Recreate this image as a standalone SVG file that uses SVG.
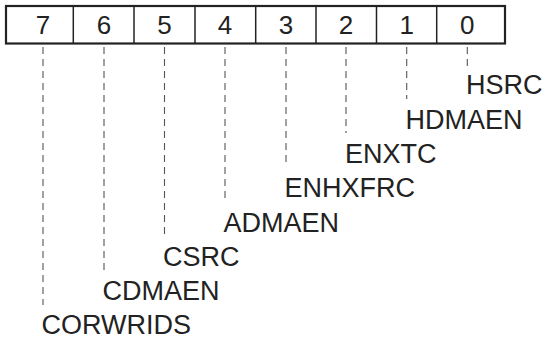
<svg xmlns="http://www.w3.org/2000/svg" width="542" height="342" viewBox="0 0 542 342">
<style>
.box{fill:#fff;stroke:#222;stroke-width:2.2}
.div{stroke:#222;stroke-width:1.5}
.num{font-family:"Liberation Sans",Arial,sans-serif;font-size:26px;fill:#222;text-anchor:middle}
.lbl{font-family:"Liberation Sans",Arial,sans-serif;font-size:27px;fill:#222}
.dash{stroke:#555;stroke-width:1.1;stroke-dasharray:7 5;fill:none}
</style>
<rect width="542" height="342" fill="#fff"/>
<g id="register">
<rect class="box" x="6" y="6" width="499" height="37.5"/>
<line class="div" x1="73.3" y1="6" x2="73.3" y2="43.5"/>
<line class="div" x1="134" y1="6" x2="134" y2="43.5"/>
<line class="div" x1="195" y1="6" x2="195" y2="43.5"/>
<line class="div" x1="255.7" y1="6" x2="255.7" y2="43.5"/>
<line class="div" x1="316" y1="6" x2="316" y2="43.5"/>
<line class="div" x1="376.5" y1="6" x2="376.5" y2="43.5"/>
<line class="div" x1="436.7" y1="6" x2="436.7" y2="43.5"/>
<text class="num" x="43" y="33.5">7</text>
<text class="num" x="104" y="33.5">6</text>
<text class="num" x="164.5" y="33.5">5</text>
<text class="num" x="225" y="33.5">4</text>
<text class="num" x="286" y="33.5">3</text>
<text class="num" x="346" y="33.5">2</text>
<text class="num" x="406.7" y="33.5">1</text>
<text class="num" x="467.3" y="33.5">0</text>
</g>
<g id="connectors">
<line class="dash" x1="43" y1="47" x2="43" y2="305"/>
<line class="dash" x1="104" y1="47" x2="104" y2="271"/>
<line class="dash" x1="164.5" y1="47" x2="164.5" y2="235"/>
<line class="dash" x1="225" y1="47" x2="225" y2="201"/>
<line class="dash" x1="286" y1="47" x2="286" y2="167"/>
<line class="dash" x1="346" y1="47" x2="346" y2="133"/>
<line class="dash" x1="406.7" y1="47" x2="406.7" y2="99"/>
<line class="dash" x1="467.3" y1="47" x2="467.3" y2="68"/>
</g>
<g id="bit0"><text class="lbl" x="466" y="94">HSRC</text></g>
<g id="bit1"><text class="lbl" x="405.5" y="128.5">HDMAEN</text></g>
<g id="bit2"><text class="lbl" x="345" y="162.8">ENXTC</text></g>
<g id="bit3"><text class="lbl" x="284.5" y="197">ENHXFRC</text></g>
<g id="bit4"><text class="lbl" x="223.5" y="231.5">ADMAEN</text></g>
<g id="bit5"><text class="lbl" x="163" y="266">CSRC</text></g>
<g id="bit6"><text class="lbl" x="102.5" y="300">CDMAEN</text></g>
<g id="bit7"><text class="lbl" x="41.5" y="334">CORWRIDS</text></g>
</svg>
